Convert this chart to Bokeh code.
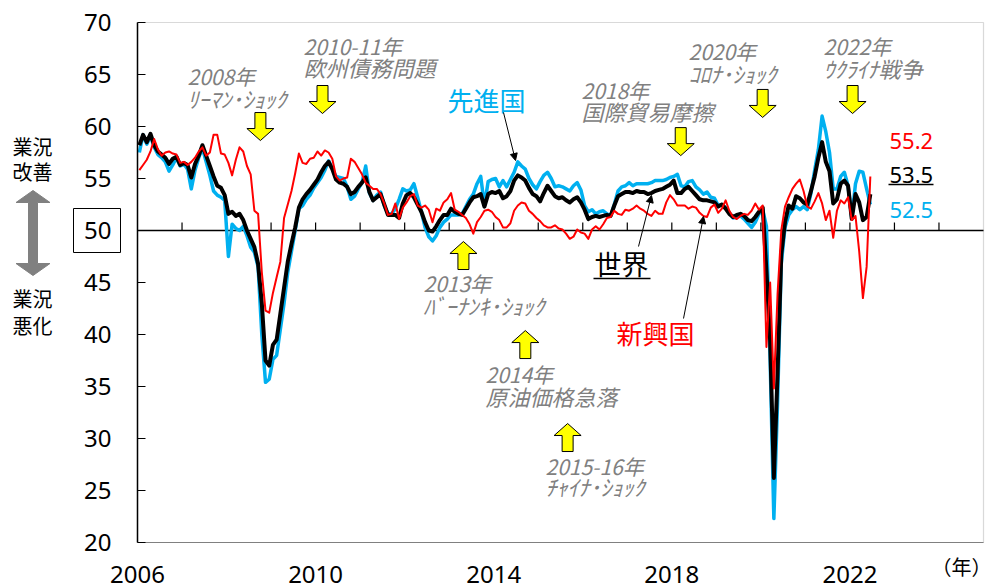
import numpy as np
from bokeh.plotting import figure
from bokeh.models import (Range1d, FixedTicker, Label, Arrow, NormalHead, PolyAnnotation,
                          LinearAxis, BoxAnnotation)
from bokeh.embed import file_html
from bokeh.resources import INLINE

# ---------------- data (monthly PMI, Jan 2006 - Jun 2022) ----------------
START_YEAR = 2006
world = [
    58.2, 59.2, 58.5, 59.3, 58.2, 57.6, 57.3, 57.0, 56.4, 56.9, 57.1, 56.3,
    56.5, 56.3, 55.1, 56.4, 57.2, 58.2, 57.2, 56.2, 55.2, 54.3, 54.1, 53.4,
    51.6, 51.8, 51.4, 51.6, 51.0, 50.0, 49.2, 48.4, 46.8, 43.0, 37.5, 37.0,
    39.0, 39.5, 42.0, 44.5, 47.0, 48.7, 50.3, 52.2, 53.0, 53.5, 53.9, 54.4,
    54.9, 55.6, 56.2, 56.6, 55.9, 54.9, 54.6, 54.5, 54.2, 53.5, 53.7, 54.2,
    54.6, 55.1, 53.7, 52.9, 53.2, 53.5, 52.5, 51.5, 51.5, 51.5, 51.2, 52.6,
    53.4, 53.6, 53.2, 52.5, 51.8, 50.8, 50.0, 49.9, 50.4, 51.0, 51.5, 51.5,
    52.1, 51.8, 51.6, 51.5, 52.1, 52.7, 53.2, 53.3, 53.5, 52.3, 53.5, 53.7,
    53.6, 53.8, 53.1, 53.3, 53.8, 54.8, 55.3, 55.1, 54.8, 54.1, 53.5, 53.3,
    52.8, 53.6, 54.3, 53.8, 53.3, 53.1, 53.2, 52.9, 52.7, 53.0, 53.2, 52.7,
    52.0, 51.1, 51.3, 51.4, 51.3, 51.4, 51.5, 51.4, 52.4, 53.3, 53.5, 53.7,
    53.7, 53.6, 53.8, 53.7, 53.7, 53.5, 53.6, 53.8, 53.9, 54.0, 54.2, 54.4,
    54.8, 53.6, 53.6, 54.0, 54.2, 53.8, 53.4, 53.0, 52.9, 52.9, 52.8, 52.7,
    52.3, 52.5, 52.1, 51.6, 51.3, 51.5, 51.6, 51.4, 51.0, 50.9, 51.3, 51.8,
    52.2, 46.1, 39.4, 26.2, 36.3, 47.7, 50.8, 52.4, 52.1, 53.3, 53.1, 52.7,
    52.5, 53.8, 55.2, 57.0, 58.5, 56.6, 55.7, 52.6, 53.0, 54.5, 54.8, 54.3,
    51.1, 53.5, 52.7, 51.0, 51.3, 53.5,
]
advanced = [
    57.5, 59.2, 58.3, 59.1, 58.0, 57.3, 57.0, 56.6, 55.7, 56.3, 57.0, 56.2,
    56.4, 55.9, 54.0, 55.8, 57.0, 57.9, 56.6, 55.3, 53.8, 53.4, 53.2, 52.9,
    47.5, 50.6, 50.2, 50.0, 50.4, 49.5, 48.4, 47.9, 46.5, 40.0, 35.4, 35.7,
    37.6, 38.0, 40.5, 43.0, 46.0, 48.0, 50.0, 52.1, 52.4, 53.0, 53.4, 54.1,
    54.6, 55.1, 55.8, 56.7, 56.0, 55.2, 55.1, 55.0, 54.2, 53.0, 53.3, 54.0,
    54.6, 56.2, 53.6, 52.9, 53.4, 53.7, 52.4, 51.6, 51.6, 52.1, 53.0, 54.0,
    53.8, 53.9, 54.5, 53.2, 51.8, 50.3, 49.4, 49.0, 49.5, 50.3, 50.8, 51.1,
    51.5, 51.5, 51.5, 51.6, 52.3, 53.0, 53.5, 54.5, 55.2, 52.4, 54.7, 54.9,
    55.0, 54.2, 54.8, 54.2, 54.9, 55.6, 56.6, 56.2, 55.9, 55.0, 54.4, 54.0,
    54.7, 55.3, 55.6, 55.0, 54.2, 54.3, 54.2, 54.0, 53.8, 54.3, 54.6, 53.9,
    52.4, 51.8, 52.0, 51.6, 51.8, 51.9, 51.6, 51.4, 52.5, 53.8, 54.2, 54.3,
    54.6, 54.3, 54.5, 54.5, 54.5, 54.5, 54.6, 54.8, 54.8, 54.8, 54.9, 55.1,
    55.2, 55.4, 54.3, 54.2, 54.7, 54.8, 54.2, 53.9, 53.5, 53.7, 53.2, 53.1,
    52.4, 52.5, 52.2, 51.7, 51.2, 51.3, 51.4, 51.1, 50.7, 50.3, 50.8, 51.6,
    52.0, 50.4, 37.5, 22.3, 33.5, 46.8, 50.3, 51.5, 52.0, 52.3, 52.0, 52.3,
    52.0, 53.6, 55.8, 57.8, 61.0, 59.5, 57.5, 54.0, 54.0, 55.2, 55.6, 54.3,
    51.2, 54.5, 55.7, 55.6, 54.0, 52.5,
]
emerging = [
    55.8, 56.3, 56.8, 57.6, 58.8, 57.8, 57.2, 57.5, 57.6, 57.4, 57.3, 56.5,
    56.6, 56.3, 56.6, 57.0, 57.6, 58.0, 57.2, 57.5, 59.2, 59.2, 57.4, 57.3,
    56.5, 55.3, 56.8, 58.0, 57.6, 56.2, 55.4, 51.9, 51.6, 46.0, 42.3, 42.1,
    44.0, 45.5, 47.0, 51.2, 52.5, 53.8, 55.5, 57.4, 56.5, 56.4, 56.9, 57.0,
    57.6, 57.2, 57.7, 57.5, 56.9, 55.2, 54.8, 55.0, 55.1, 56.9, 56.6, 56.0,
    55.4, 54.6, 54.3, 54.0, 54.0, 53.5, 52.6, 51.5, 51.6, 52.6, 51.1, 52.2,
    52.7, 53.3, 53.5, 52.4, 52.2, 52.4, 52.0, 50.8, 52.1, 51.9, 52.7, 53.0,
    53.6, 52.0, 51.8, 51.5, 51.2, 50.6, 49.7, 50.8, 51.3, 51.9, 52.0, 51.8,
    51.3, 51.0, 50.3, 50.3, 50.7, 51.9, 52.4, 52.7, 52.6, 51.9, 51.6, 51.2,
    50.9, 50.5, 50.3, 50.3, 50.5, 50.2, 50.1, 49.7, 49.2, 49.4, 50.1, 49.8,
    49.7, 49.2, 50.1, 50.4, 50.1, 50.6, 51.2, 51.3, 51.9, 51.6, 51.5, 52.0,
    51.9, 52.1, 52.4, 52.1, 51.9, 51.6, 51.4, 51.9, 51.6, 51.6, 52.7, 53.4,
    53.0, 52.4, 52.4, 52.4, 52.1, 52.3, 52.2, 51.7, 51.4, 51.3, 52.2, 52.5,
    51.7, 52.1, 52.9, 51.9, 51.3, 51.1, 51.4, 51.6, 51.5, 51.9, 52.6, 52.0,
    52.4, 38.8, 45.0, 34.8, 43.9, 50.0, 52.3, 53.2, 54.0, 54.5, 54.9, 53.8,
    52.3, 52.1, 52.8, 53.6, 52.6, 51.0, 51.9, 49.3, 51.9, 52.9, 52.6, 53.2,
    51.0, 51.4, 48.0, 43.5, 46.5, 55.2,
]
year_labels = [2006, 2010, 2014, 2018, 2022]
y_ticks = [20, 25, 30, 35, 40, 45, 50, 55, 60, 65, 70]

# ---------------- geometry helpers ----------------
X0, X1, Y0, Y1 = 2006, 2025, 20, 70          # chart area (data)
FL, FT, FW, FH = 137, 22, 846, 520          # chart area (pixels on canvas)
W, Hc = 992, 588
def px_x(px):   # canvas pixel -> data x
    return X0 + (px - FL) * (X1 - X0) / FW
def px_y(py):
    return Y1 - (py - FT) * (Y1 - Y0) / FH
def dxp(d):
    return d * (X1 - X0) / FW
def dyp(d):
    return d * (Y1 - Y0) / FH

months = np.arange(len(world))
xm = START_YEAR + (months + 0.5) / 12.0

p = figure(width=W, height=Hc, x_range=Range1d(px_x(0), px_x(W)), y_range=Range1d(px_y(Hc), px_y(0)),
           output_backend="svg", toolbar_location=None, x_axis_location=None, y_axis_location=None,
           min_border=0)
p.background_fill_color = "white"
p.border_fill_color = "white"
p.outline_line_color = None
p.grid.grid_line_color = None

NUMFONT = "Noto Sans"
JPFONT = "Noto Sans CJK JP"

# chart frame (grey box)
p.add_layout(BoxAnnotation(left=X0, right=X1, bottom=Y0, top=Y1, fill_color=None,
                           line_color="#808080", line_width=1.2, level="underlay"))

xax = LinearAxis(fixed_location=Y0, bounds=(X0, X1), ticker=FixedTicker(ticks=year_labels))
xax.major_tick_line_color = None
xax.minor_tick_line_color = None
xax.axis_line_color = "#808080"
xax.axis_line_width = 1.2
xax.major_label_text_font = NUMFONT
xax.major_label_text_font_size = "24px"
xax.major_label_text_color = "black"
xax.major_label_standoff = 17
p.add_layout(xax, "below")

yax = LinearAxis(fixed_location=X0, bounds=(Y0, Y1), ticker=FixedTicker(ticks=y_ticks))
yax.major_tick_in = 8
yax.major_tick_out = 0
yax.minor_tick_line_color = None
yax.axis_line_color = "black"
yax.axis_line_width = 1.5
yax.major_tick_line_color = "black"
yax.major_tick_line_width = 1.2
yax.major_label_text_font = NUMFONT
yax.major_label_text_font_size = "24px"
yax.major_label_text_color = "black"
yax.major_label_standoff = 26
p.add_layout(yax, "left")

# 50 line with yearly tick marks
p.segment(x0=[X0], y0=[50], x1=[X1], y1=[50], line_color="black", line_width=1.5)
tick_years = list(range(X0 + 1, X1))
p.segment(x0=tick_years, y0=[50] * len(tick_years), x1=tick_years,
          y1=[50 + dyp(8)] * len(tick_years), line_color="black", line_width=1.2)

# series
p.line(xm, advanced, line_color="#00B0F0", line_width=3.5, line_join="round")
p.line(xm, world, line_color="black", line_width=4, line_join="round")
p.line(xm, emerging, line_color="#FF0000", line_width=2, line_join="round")

# yellow block arrows (event markers)
events_down = [(2008.76, 58.65), (2010.155, 61.25), (2018.2, 57.2), (2020.04, 60.87), (2022.06, 61.25)]
events_up = [(2013.32, 48.94), (2014.71, 40.38), (2015.66, 31.44)]
H, HH, HW, SW = 28, 12, 13.5, 5.5
xs_all, ys_all = [], []
for xc, tip in events_down:
    top = tip + dyp(H); neck = tip + dyp(HH)
    xs_all.append([xc - dxp(SW), xc + dxp(SW), xc + dxp(SW), xc + dxp(HW), xc, xc - dxp(HW), xc - dxp(SW)])
    ys_all.append([top, top, neck, neck, tip, neck, neck])
for xc, tip in events_up:
    bot = tip - dyp(H); neck = tip - dyp(HH)
    xs_all.append([xc - dxp(SW), xc + dxp(SW), xc + dxp(SW), xc + dxp(HW), xc, xc - dxp(HW), xc - dxp(SW)])
    ys_all.append([bot, bot, neck, neck, tip, neck, neck])
p.patches(xs_all, ys_all, fill_color="#FFFF00", line_color="black", line_width=1)

GRAY = "#808080"
def lab(text, xpx, ypx, size, color=GRAY, font=JPFONT, style="italic", align="left"):
    p.add_layout(Label(x=px_x(xpx), y=px_y(ypx), text=text, text_font=font,
                       text_font_size=f"{size}px", text_color=color, text_font_style=style,
                       text_align=align, text_baseline="middle"))

# event texts
ev_texts = [
    ("2008年", "ﾘｰﾏﾝ･ｼｮｯｸ", 187, 75, 97),
    ("2010-11年", "欧州債務問題", 303, 45, 66),
    ("2018年", "国際貿易摩擦", 581, 89, 110),
    ("2020年", "ｺﾛﾅ･ｼｮｯｸ", 688, 50, 72),
    ("2022年", "ｳｸﾗｲﾅ戦争", 823, 45, 67),
    ("2013年", "ﾊﾞｰﾅﾝｷ･ｼｮｯｸ", 423, 282, 304),
    ("2014年", "原油価格急落", 485, 373, 395),
    ("2015-16年", "ﾁｬｲﾅ･ｼｮｯｸ", 545, 465, 485),
]
for l1, l2, xl, y1, y2 in ev_texts:
    lab(l1, xl, y1, 21)
    lab(l2, xl, y2, 22)

# series names
lab("先進国", 447, 99, 26, color="#00B0F0", style="normal")
lab("世界", 594, 263, 27, color="black", style="normal")
lab("新興国", 616, 332, 26, color="#FF0000", style="normal")
p.segment(x0=[px_x(593)], y0=[px_y(278)], x1=[px_x(650)], y1=[px_y(278)], line_color="black", line_width=1.5)

# latest values
lab("55.2", 889, 140, 22, color="#FF0000", font=NUMFONT, style="normal")
lab("53.5", 889, 174, 22, color="black", font=NUMFONT, style="normal")
lab("52.5", 889, 209, 22, color="#00B0F0", font=NUMFONT, style="normal")
p.segment(x0=[px_x(888)], y0=[px_y(184)], x1=[px_x(933)], y1=[px_y(184)], line_color="black", line_width=1.3)

# pointer arrows
for (xa, ya, xb, yb) in [(503, 112, 515, 160), (638, 246, 651, 195), (683, 318, 703, 216)]:
    p.add_layout(Arrow(end=NormalHead(size=7, fill_color="black", line_color="black"),
                       x_start=px_x(xa), y_start=px_y(ya), x_end=px_x(xb), y_end=px_y(yb),
                       line_color="black", line_width=1))

# left side labels
lab("業況", 12, 146, 20, color="black", style="normal")
lab("改善", 12, 171, 20, color="black", style="normal")
lab("業況", 12, 298, 20, color="black", style="normal")
lab("悪化", 12, 325, 20, color="black", style="normal")

# gray double arrow
cx, t, b = 32.5, 190, 275
pts = [(cx, t), (cx + 17, t + 12), (cx + 4.5, t + 12), (cx + 4.5, b - 12), (cx + 17, b - 12), (cx, b),
       (cx - 17, b - 12), (cx - 4.5, b - 12), (cx - 4.5, t + 12), (cx - 17, t + 12)]
p.add_layout(PolyAnnotation(xs=[px_x(a) for a, _ in pts], ys=[px_y(c) for _, c in pts],
                            fill_color=GRAY, fill_alpha=1, line_color=GRAY, line_alpha=1))

# box around 50
bx = [(73, 208), (120, 208), (120, 252), (73, 252)]
p.add_layout(PolyAnnotation(xs=[px_x(a) for a, _ in bx], ys=[px_y(c) for _, c in bx],
                            fill_alpha=0, line_color="black", line_width=1, line_alpha=1))

# unit label
lab("（年）", 991, 566, 20, color="black", style="normal", align="right")

open("out.html", "w").write(file_html(p, INLINE))
